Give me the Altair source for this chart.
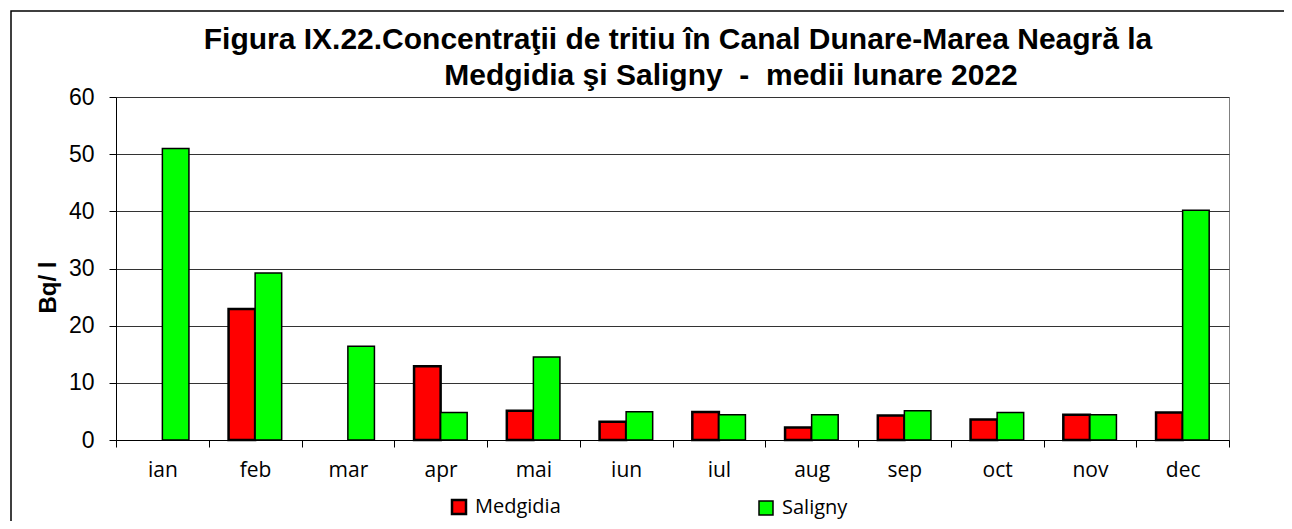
import altair as alt
import pandas as pd

months = ["ian", "feb", "mar", "apr", "mai", "iun", "iul", "aug", "sep", "oct", "nov", "dec"]
series = ["Medgidia", "Saligny"]
medgidia = [None, 22.9, None, 12.9, 5.1, 3.2, 4.9, 2.2, 4.3, 3.6, 4.4, 4.8]
saligny = [51.0, 29.2, 16.4, 4.8, 14.5, 4.95, 4.4, 4.4, 5.1, 4.8, 4.4, 40.2]
colors = ["#FF0000", "#00FF00"]
y_ticks = [0, 10, 20, 30, 40, 50, 60]
title_line1 = "Figura IX.22.Concentraţii de tritiu în Canal Dunare-Marea Neagră la"
title_line2 = "Medgidia şi Saligny\u00a0\u00a0-\u00a0\u00a0medii lunare 2022"

rows = []
for m, a, b in zip(months, medgidia, saligny):
    rows.append({"luna": m, "statie": series[0], "val": a})
    rows.append({"luna": m, "statie": series[1], "val": b})
df = pd.DataFrame(rows)
one = pd.DataFrame({"k": [0]})

border = alt.Chart(one).mark_rect(
    fillOpacity=0, stroke="black", strokeWidth=1.5
).encode(
    x=alt.value(-105), x2=alt.value(1200), y=alt.value(-86), y2=alt.value(460)
)

title_style = dict(font="Liberation Sans", fontSize=30, fontWeight="bold",
                   color="black", align="center", baseline="alphabetic")
t1 = alt.Chart(one).mark_text(**title_style).encode(
    x=alt.value(562), y=alt.value(-48), text=alt.value(title_line1)
)
t2 = alt.Chart(one).mark_text(**title_style).encode(
    x=alt.value(615), y=alt.value(-12), text=alt.value(title_line2)
)

bars = alt.Chart(df).mark_bar(stroke="black").encode(
    x=alt.X(
        "luna:N",
        sort=months,
        scale=alt.Scale(paddingInner=0, paddingOuter=0),
        axis=alt.Axis(
            title=None,
            labelAngle=0,
            labelFont="Open Sans",
            labelFontSize=21,
            labelColor="black",
            labelPadding=12,
            tickBand="extent",
            tickSize=7,
            tickColor="black",
            domainColor="black",
            grid=False,
        ),
    ),
    xOffset=alt.XOffset(
        "statie:N",
        sort=series,
        scale=alt.Scale(domain=series, paddingInner=0, paddingOuter=0.746),
    ),
    y=alt.Y(
        "val:Q",
        scale=alt.Scale(domain=[0, 60], nice=False),
        axis=alt.Axis(
            title="Bq/ l",
            values=y_ticks,
            labelFont="Liberation Sans",
            labelFontSize=23,
            labelColor="black",
            labelPadding=15,
            tickSize=7,
            tickColor="black",
            domainColor="black",
            gridColor="#333333",
            titleFont="Liberation Sans",
            titleFontSize=24,
            titleFontWeight="bold",
            titleColor="black",
            titlePadding=8,
            titleY=190,
        ),
    ),
    color=alt.Color(
        "statie:N",
        sort=series,
        scale=alt.Scale(domain=series, range=colors),
        legend=alt.Legend(
            title=None,
            orient="none",
            legendX=333,
            legendY=400,
            direction="horizontal",
            columns=2,
            columnPadding=195,
            symbolType="square",
            symbolSize=196,
            symbolStrokeColor="black",
            symbolStrokeWidth=2,
            symbolOpacity=1,
            labelFont="Open Sans",
            labelFontSize=20,
            labelColor="black",
            labelOffset=6,
        ),
    ),
    strokeWidth=alt.StrokeWidth(
        "statie:N", scale=alt.Scale(domain=series, range=[2.5, 1.5]), legend=None
    ),
)

chart = alt.layer(border, t1, t2, bars).properties(
    width=1113,
    height=343,
    autosize=alt.AutoSizeParams(type="none"),
    padding={"left": 108, "top": 89, "right": 55, "bottom": 81},
).configure_view(stroke="#808080", strokeWidth=1)

chart.save("out.html", embed_options={"renderer": "svg", "actions": False})
